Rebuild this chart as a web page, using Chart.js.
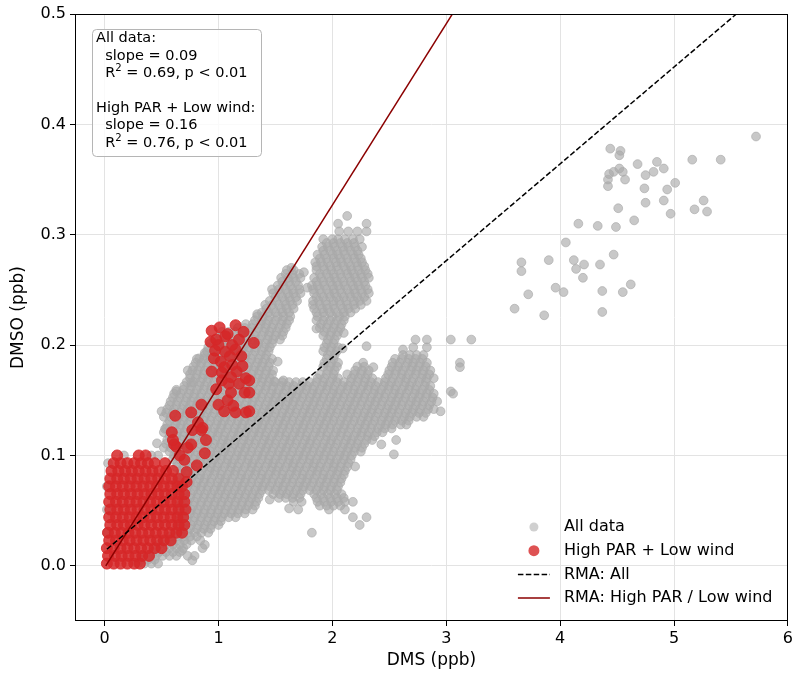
<!DOCTYPE html>
<html>
<head>
<meta charset="utf-8">
<script src="https://cdn.jsdelivr.net/npm/chart.js@4.4.1/dist/chart.umd.min.js"></script>
<style>
html, body { margin: 0; padding: 0; background: #fff; }
#wrap { width: 796px; height: 674px; }
</style>
</head>
<body>
<div id="wrap"><canvas id="chart" width="796" height="674"></canvas></div>
<script>
// DMS vs DMSO. Rows are [y, x, x, ...] (ppb)
const allLow = [
  [0.002, 0.29, 0.35, 0.41, 0.47],
  [0.0055, 0.32, 0.38, 0.44],
  [0.009, 0.33, 0.39, 0.45, 0.51, 0.57, 0.63, 0.73, 0.79],
  [0.0125, 0.42, 0.48, 0.54, 0.60, 0.66],
  [0.016, 0.45, 0.51, 0.57, 0.63, 0.69, 0.86],
  [0.0195, 0.48, 0.54, 0.60, 0.66, 0.72],
  [0.023, 0.52, 0.58, 0.64, 0.70, 0.76, 0.84],
  [0.0265, 0.57, 0.63, 0.69, 0.75, 0.81],
  [0.030, 0.02, 0.61, 0.67, 0.73, 0.79, 0.85, 0.91, 1.82],
  [0.0335, 0.63, 0.69, 0.75, 0.81, 0.87, 0.93],
  [0.037, 0.64, 0.70, 0.76, 0.82, 0.88, 0.94, 1.00, 2.24],
  [0.0405, 0.66, 0.72, 0.78, 0.84, 0.90, 0.96, 1.02],
  [0.044, 0.67, 0.73, 0.79, 0.85, 0.91, 0.97, 1.03, 1.09, 1.15, 2.18, 2.30],
  [0.0475, 0.69, 0.75, 0.81, 0.87, 0.93, 0.99, 1.05, 1.11, 1.17, 1.23],
  [0.051, 0.02, 0.64, 0.70, 0.76, 0.82, 0.88, 0.94, 1.00, 1.06, 1.12, 1.18, 1.24, 1.30, 1.70, 1.97, 2.11],
  [0.0545, 0.66, 0.72, 0.78, 0.84, 0.90, 0.96, 1.02, 1.08, 1.14, 1.20, 1.26, 1.32, 1.89, 1.95, 2.01, 2.07],
  [0.058, 0.67, 0.73, 0.79, 0.85, 0.91, 0.97, 1.03, 1.09, 1.15, 1.21, 1.27, 1.33, 1.66, 1.73, 1.87, 1.93, 1.99, 2.05, 2.11, 2.18],
  [0.0615, 0.69, 0.75, 0.81, 0.87, 0.93, 0.99, 1.05, 1.11, 1.17, 1.23, 1.29, 1.35, 1.53, 1.59, 1.65, 1.71, 1.86, 1.92, 1.98, 2.04, 2.10],
  [0.065, 0.64, 0.70, 0.76, 0.82, 0.88, 0.94, 1.00, 1.06, 1.12, 1.18, 1.24, 1.30, 1.36, 1.48, 1.54, 1.60, 1.66, 1.72, 1.84, 1.90, 1.96, 2.02, 2.08]
];

const allMain = [
  [0.0685, 0.66, 0.72, 0.78, 0.84, 0.90, 0.96, 1.02, 1.08, 1.14, 1.20, 1.26, 1.32, 1.38, 1.44, 1.50, 1.56, 1.62, 1.68, 1.74, 1.80, 1.86, 1.92, 1.98, 2.04],
  [0.072, 0.02, 0.67, 0.73, 0.80, 0.85, 0.91, 0.98, 1.03, 1.09, 1.16, 1.21, 1.27, 1.34, 1.39, 1.45, 1.52, 1.57, 1.63, 1.70, 1.75, 1.81, 1.88, 1.93, 1.99, 2.05],
  [0.0755, 0.63, 0.69, 0.75, 0.81, 0.87, 0.93, 0.99, 1.05, 1.11, 1.17, 1.23, 1.29, 1.35, 1.41, 1.47, 1.53, 1.59, 1.65, 1.71, 1.77, 1.83, 1.89, 1.95, 2.01, 2.07],
  [0.079, 0.64, 0.70, 0.76, 0.83, 0.88, 0.94, 1.01, 1.06, 1.12, 1.19, 1.24, 1.30, 1.37, 1.42, 1.48, 1.55, 1.60, 1.66, 1.73, 1.78, 1.84, 1.91, 1.96, 2.02, 2.08],
  [0.0825, 0.66, 0.72, 0.78, 0.84, 0.90, 0.96, 1.02, 1.08, 1.14, 1.20, 1.26, 1.32, 1.38, 1.44, 1.50, 1.56, 1.62, 1.68, 1.74, 1.80, 1.86, 1.92, 1.98, 2.04, 2.10],
  [0.086, 0.67, 0.74, 0.79, 0.85, 0.92, 0.97, 1.03, 1.10, 1.15, 1.21, 1.28, 1.33, 1.39, 1.46, 1.51, 1.57, 1.64, 1.69, 1.75, 1.82, 1.87, 1.93, 2.00, 2.05, 2.11],
  [0.0895, 0.63, 0.69, 0.75, 0.81, 0.87, 0.93, 0.99, 1.05, 1.11, 1.17, 1.23, 1.29, 1.35, 1.41, 1.47, 1.53, 1.59, 1.65, 1.71, 1.77, 1.83, 1.89, 1.95, 2.01, 2.07, 2.13],
  [0.093, 0.03, 0.64, 0.71, 0.76, 0.82, 0.89, 0.94, 1.00, 1.07, 1.12, 1.18, 1.25, 1.30, 1.36, 1.43, 1.48, 1.54, 1.61, 1.66, 1.72, 1.79, 1.84, 1.90, 1.97, 2.02, 2.08, 2.14],
  [0.0965, 0.60, 0.66, 0.72, 0.78, 0.84, 0.90, 0.96, 1.02, 1.08, 1.14, 1.20, 1.26, 1.32, 1.38, 1.44, 1.50, 1.56, 1.62, 1.68, 1.74, 1.80, 1.86, 1.92, 1.98, 2.04, 2.10, 2.16],
  [0.100, 0.17, 0.41, 0.47, 0.61, 0.67, 0.73, 0.80, 0.85, 0.91, 0.98, 1.03, 1.09, 1.16, 1.21, 1.27, 1.34, 1.39, 1.45, 1.52, 1.57, 1.63, 1.70, 1.75, 1.81, 1.88, 1.93, 1.99, 2.06, 2.11, 2.17],
  [0.1035, 0.57, 0.63, 0.69, 0.75, 0.81, 0.87, 0.93, 0.99, 1.05, 1.11, 1.17, 1.23, 1.29, 1.35, 1.41, 1.47, 1.53, 1.59, 1.65, 1.71, 1.77, 1.83, 1.89, 1.95, 2.01, 2.07, 2.13, 2.19, 2.25],
  [0.107, 0.52, 0.58, 0.65, 0.70, 0.76, 0.83, 0.88, 0.94, 1.01, 1.06, 1.12, 1.19, 1.24, 1.30, 1.37, 1.42, 1.48, 1.55, 1.60, 1.66, 1.73, 1.78, 1.84, 1.91, 1.96, 2.02, 2.09, 2.14, 2.20, 2.26],
  [0.1105, 0.54, 0.60, 0.66, 0.72, 0.78, 0.84, 0.90, 0.96, 1.02, 1.08, 1.14, 1.20, 1.26, 1.32, 1.38, 1.44, 1.50, 1.56, 1.62, 1.68, 1.74, 1.80, 1.86, 1.92, 1.98, 2.04, 2.10, 2.16, 2.22, 2.28],
  [0.114, 0.55, 0.61, 0.68, 0.73, 0.79, 0.86, 0.91, 0.97, 1.04, 1.09, 1.15, 1.22, 1.27, 1.33, 1.40, 1.45, 1.51, 1.58, 1.63, 1.69, 1.76, 1.81, 1.87, 1.94, 1.99, 2.05, 2.12, 2.17, 2.23, 2.30, 2.35, 2.56],
  [0.1175, 0.57, 0.63, 0.69, 0.75, 0.81, 0.87, 0.93, 0.99, 1.05, 1.11, 1.17, 1.23, 1.29, 1.35, 1.41, 1.47, 1.53, 1.59, 1.65, 1.71, 1.77, 1.83, 1.89, 1.95, 2.01, 2.07, 2.13, 2.19, 2.25, 2.31, 2.37],
  [0.121, 0.52, 0.59, 0.64, 0.70, 0.77, 0.82, 0.88, 0.95, 1.00, 1.06, 1.13, 1.18, 1.24, 1.31, 1.36, 1.42, 1.49, 1.54, 1.60, 1.67, 1.72, 1.78, 1.85, 1.90, 1.96, 2.03, 2.08, 2.14, 2.21, 2.26, 2.32, 2.39, 2.44],
  [0.1245, 0.54, 0.60, 0.66, 0.72, 0.78, 0.84, 0.90, 0.96, 1.02, 1.08, 1.14, 1.20, 1.26, 1.32, 1.38, 1.44, 1.50, 1.56, 1.62, 1.68, 1.74, 1.80, 1.86, 1.92, 1.98, 2.04, 2.10, 2.16, 2.22, 2.28, 2.34, 2.40, 2.46, 2.52],
  [0.128, 0.55, 0.62, 0.67, 0.73, 0.80, 0.85, 0.91, 0.98, 1.03, 1.09, 1.16, 1.21, 1.27, 1.34, 1.39, 1.45, 1.52, 1.57, 1.63, 1.70, 1.75, 1.81, 1.88, 1.93, 1.99, 2.06, 2.11, 2.17, 2.24, 2.29, 2.35, 2.42, 2.47, 2.53, 2.60, 2.65],
  [0.1315, 0.57, 0.63, 0.69, 0.75, 0.81, 0.87, 0.93, 0.99, 1.05, 1.11, 1.17, 1.23, 1.29, 1.35, 1.41, 1.47, 1.53, 1.59, 1.65, 1.71, 1.77, 1.83, 1.89, 1.95, 2.01, 2.07, 2.13, 2.19, 2.25, 2.31, 2.37, 2.43, 2.49, 2.55, 2.61, 2.67],
  [0.135, 0.52, 0.58, 0.65, 0.70, 0.76, 0.83, 0.88, 0.94, 1.01, 1.06, 1.12, 1.19, 1.24, 1.30, 1.37, 1.42, 1.48, 1.55, 1.60, 1.66, 1.73, 1.78, 1.84, 1.91, 1.96, 2.02, 2.09, 2.14, 2.20, 2.27, 2.32, 2.38, 2.45, 2.50, 2.56, 2.63, 2.68, 2.74, 2.80],
  [0.1385, 0.54, 0.60, 0.66, 0.72, 0.78, 0.84, 0.90, 0.96, 1.02, 1.08, 1.14, 1.20, 1.26, 1.32, 1.38, 1.44, 1.50, 1.56, 1.62, 1.68, 1.74, 1.80, 1.86, 1.92, 1.98, 2.04, 2.10, 2.16, 2.22, 2.28, 2.34, 2.40, 2.46, 2.52, 2.58, 2.64, 2.70, 2.76, 2.82],
  [0.142, 0.55, 0.61, 0.68, 0.73, 0.79, 0.86, 0.91, 0.97, 1.04, 1.09, 1.15, 1.22, 1.27, 1.33, 1.40, 1.45, 1.51, 1.58, 1.63, 1.69, 1.76, 1.81, 1.87, 1.94, 1.99, 2.05, 2.12, 2.17, 2.23, 2.30, 2.35, 2.41, 2.48, 2.53, 2.59, 2.66, 2.71, 2.77, 2.84, 2.89],
  [0.1455, 0.57, 0.63, 0.69, 0.75, 0.81, 0.87, 0.93, 0.99, 1.05, 1.11, 1.17, 1.23, 1.29, 1.35, 1.41, 1.47, 1.53, 1.59, 1.65, 1.71, 1.77, 1.83, 1.89, 1.95, 2.01, 2.07, 2.13, 2.19, 2.25, 2.31, 2.37, 2.43, 2.49, 2.55, 2.61, 2.67, 2.73, 2.79, 2.85],
  [0.149, 0.58, 0.64, 0.71, 0.76, 0.82, 0.89, 0.94, 1.00, 1.07, 1.12, 1.18, 1.25, 1.30, 1.36, 1.43, 1.48, 1.54, 1.61, 1.66, 1.72, 1.79, 1.84, 1.90, 1.97, 2.02, 2.08, 2.15, 2.20, 2.26, 2.33, 2.38, 2.44, 2.51, 2.56, 2.62, 2.69, 2.74, 2.80, 2.87, 2.92],
  [0.1525, 0.60, 0.66, 0.72, 0.78, 0.84, 0.90, 0.96, 1.02, 1.08, 1.14, 1.20, 1.26, 1.32, 1.38, 1.44, 1.50, 1.56, 1.62, 1.68, 1.74, 1.80, 1.86, 1.92, 1.98, 2.04, 2.10, 2.16, 2.22, 2.28, 2.34, 2.40, 2.46, 2.52, 2.58, 2.64, 2.70, 2.76, 2.82, 2.88],
  [0.156, 0.61, 0.67, 0.74, 0.79, 0.85, 0.92, 0.97, 1.03, 1.10, 1.15, 1.21, 1.28, 1.33, 1.39, 1.46, 1.51, 1.57, 1.64, 1.69, 1.75, 1.82, 1.87, 1.93, 2.00, 2.05, 2.11, 2.18, 2.23, 2.29, 2.36, 2.41, 2.47, 2.54, 2.59, 2.65, 2.72, 2.77, 2.83, 2.89, 3.06],
  [0.1595, 0.63, 0.69, 0.75, 0.81, 0.87, 0.93, 0.99, 1.05, 1.11, 1.17, 1.23, 1.29, 1.35, 1.41, 1.47, 1.53, 1.59, 1.65, 1.71, 1.77, 1.83, 1.89, 1.95, 2.01, 2.07, 2.13, 2.19, 2.25, 2.31, 2.37, 2.43, 2.49, 2.55, 2.61, 2.67, 2.73, 2.79, 2.85],
  [0.163, 0.70, 0.76, 0.83, 0.88, 0.94, 1.01, 1.06, 1.12, 1.19, 1.24, 1.30, 1.37, 1.42, 1.48, 1.55, 1.60, 1.66, 1.73, 1.78, 1.84, 1.91, 1.96, 2.02, 2.09, 2.14, 2.20, 2.27, 2.32, 2.38, 2.45, 2.50, 2.56, 2.63, 2.68, 2.74, 2.81, 2.86],
  [0.1665, 0.72, 0.78, 0.84, 0.90, 0.96, 1.02, 1.08, 1.14, 1.20, 1.26, 1.32, 1.38, 1.44, 1.50, 1.56, 1.62, 1.68, 1.74, 1.80, 1.86, 1.92, 1.98, 2.04, 2.10, 2.16, 2.22, 2.28, 2.34, 2.40, 2.46, 2.52, 2.58, 2.64, 2.70, 2.76, 2.82]
];

const allUpper = [
  [0.170, 0.75, 0.80, 0.86, 0.91, 0.98, 1.03, 1.09, 1.16, 1.21, 1.27, 1.34, 1.39, 1.45, 1.87, 1.93, 2.00, 2.05, 2.17, 2.23, 2.29, 2.35, 2.47, 2.53, 2.60, 2.65, 2.71, 2.78, 2.83, 2.89],
  [0.1735, 0.75, 0.81, 0.87, 0.93, 0.99, 1.05, 1.11, 1.17, 1.23, 1.29, 1.35, 1.41, 1.47, 1.89, 1.95, 2.01, 2.13, 2.19, 2.25, 2.31, 2.49, 2.55, 2.61, 2.67, 2.73, 2.79, 2.85],
  [0.177, 0.77, 0.82, 0.88, 0.95, 1.00, 1.06, 1.13, 1.18, 1.24, 1.31, 1.36, 1.42, 1.48, 1.96, 2.02, 2.20, 2.26, 2.32, 2.50, 2.56, 2.62, 2.69, 2.74, 2.80, 2.86],
  [0.1805, 0.78, 0.84, 0.90, 0.96, 1.02, 1.08, 1.14, 1.20, 1.26, 1.32, 1.38, 1.44, 1.92, 1.98, 2.04, 2.22, 2.28, 2.52, 2.58, 2.64, 2.70, 2.76, 2.82],
  [0.184, 0.80, 0.85, 0.91, 0.98, 1.03, 1.09, 1.16, 1.21, 1.27, 1.34, 1.39, 1.45, 1.93, 1.99, 2.05, 2.27, 2.53, 2.59, 2.66, 2.71, 2.77, 2.83, 3.12],
  [0.1875, 0.81, 0.87, 0.93, 0.99, 1.05, 1.11, 1.17, 1.23, 1.29, 1.35, 1.41, 1.47, 1.95, 2.01, 2.55, 2.61, 2.67, 2.73, 2.79],
  [0.191, 0.88, 0.94, 1.01, 1.06, 1.12, 1.19, 1.24, 1.30, 1.37, 1.42, 1.96, 2.02, 2.62, 2.68, 2.74, 2.80],
  [0.1945, 0.90, 0.96, 1.02, 1.08, 1.14, 1.20, 1.26, 1.32, 1.38, 1.44, 1.92, 1.98, 2.04],
  [0.198, 0.91, 0.97, 1.04, 1.09, 1.15, 1.22, 1.27, 1.33, 1.40, 1.45, 1.93, 1.99, 2.05, 2.71, 2.83],
  [0.2015, 0.93, 0.99, 1.05, 1.11, 1.17, 1.23, 1.29, 1.35, 1.41, 1.47, 1.95, 2.01],
  [0.205, 0.96, 1.00, 1.07, 1.12, 1.18, 1.25, 1.30, 1.36, 1.43, 1.48, 1.54, 1.96, 2.02, 2.73, 2.83, 3.04, 3.22],
  [0.2085, 1.02, 1.08, 1.14, 1.20, 1.26, 1.32, 1.38, 1.44, 1.50, 1.56, 1.92, 1.98, 2.04],
  [0.212, 1.03, 1.09, 1.15, 1.22, 1.27, 1.33, 1.40, 1.45, 1.51, 1.57, 1.93, 1.99, 2.05],
  [0.2155, 1.17, 1.23, 1.29, 1.35, 1.41, 1.47, 1.53, 1.59, 1.89, 1.95, 2.01, 2.07],
  [0.219, 1.24, 1.30, 1.37, 1.42, 1.48, 1.55, 1.60, 1.90, 1.96, 2.02, 2.08],
  [0.2225, 1.32, 1.38, 1.44, 1.50, 1.56, 1.62, 1.86, 1.92, 1.98, 2.04, 2.10],
  [0.226, 1.34, 1.39, 1.45, 1.52, 1.57, 1.63, 1.87, 1.93, 2.00, 2.06, 2.11],
  [0.2295, 1.38, 1.44, 1.50, 1.56, 1.62, 1.86, 1.92, 1.98, 2.04, 2.10, 2.16],
  [0.233, 1.42, 1.48, 1.55, 1.60, 1.66, 1.84, 1.91, 1.96, 2.02, 2.09, 2.14, 2.20],
  [0.2365, 1.41, 1.47, 1.53, 1.59, 1.65, 1.83, 1.89, 1.95, 2.01, 2.07, 2.13, 2.19, 2.25],
  [0.240, 1.45, 1.51, 1.58, 1.63, 1.69, 1.83, 1.88, 1.94, 2.01, 2.06, 2.12, 2.19, 2.24, 2.30],
  [0.2435, 1.50, 1.56, 1.62, 1.68, 1.86, 1.92, 1.98, 2.04, 2.10, 2.16, 2.22, 2.28],
  [0.247, 1.48, 1.54, 1.61, 1.66, 1.72, 1.84, 1.90, 1.97, 2.02, 2.08, 2.15, 2.20, 2.26, 2.32],
  [0.2505, 1.47, 1.53, 1.59, 1.65, 1.71, 1.83, 1.89, 1.95, 2.01, 2.07, 2.13, 2.19, 2.25, 2.31],
  [0.254, 1.52, 1.57, 1.63, 1.70, 1.82, 1.87, 1.93, 2.00, 2.05, 2.11, 2.18, 2.23, 2.29],
  [0.2575, 1.56, 1.62, 1.68, 1.86, 1.92, 1.98, 2.04, 2.10, 2.16, 2.22, 2.28],
  [0.261, 1.55, 1.61, 1.66, 1.72, 1.84, 1.90, 1.97, 2.02, 2.08, 2.15, 2.20, 2.26, 2.32],
  [0.2645, 1.59, 1.65, 1.71, 1.89, 1.95, 2.01, 2.07, 2.13, 2.19, 2.25, 2.31],
  [0.268, 1.60, 1.66, 1.86, 1.93, 1.99, 2.05, 2.12, 2.17, 2.23, 2.29],
  [0.2715, 1.86, 1.92, 1.98, 2.04, 2.10, 2.16, 2.22, 2.28],
  [0.275, 1.85, 1.90, 1.96, 2.03, 2.08, 2.14, 2.21, 2.26],
  [0.2785, 1.89, 1.95, 2.01, 2.07, 2.13, 2.19, 2.25],
  [0.282, 1.87, 1.93, 2.00, 2.05, 2.11, 2.18, 2.23],
  [0.2855, 1.92, 1.98, 2.04, 2.10, 2.16, 2.22],
  [0.289, 1.91, 1.96, 2.02, 2.09, 2.14, 2.20, 2.26],
  [0.2925, 1.95, 2.01, 2.07, 2.13, 2.19],
  [0.296, 1.92, 2.00, 2.05, 2.11, 2.18, 2.24],
  [0.303, 2.06, 2.14, 2.22, 2.30],
  [0.310, 2.05, 2.30],
  [0.317, 2.13]
];

// stragglers around the edges of the cloud, [x, y]
const allEdge = [
  [0.68, 0.014], [0.77, 0.005], [0.88, 0.019], [0.46, 0.111], [0.53, 0.124], [0.50, 0.140],
  [0.63, 0.158], [0.76, 0.166], [0.73, 0.177], [0.83, 0.188], [0.88, 0.193], [1.34, 0.228],
  [1.49, 0.167], [1.57, 0.168], [1.64, 0.270], [1.75, 0.266], [1.78, 0.252], [1.86, 0.215],
  [2.10, 0.211], [2.09, 0.197], [2.43, 0.110], [2.54, 0.101], [2.95, 0.140], [2.62, 0.196],
  [2.30, 0.199], [1.62, 0.052], [2.20, 0.090], [1.45, 0.060], [2.36, 0.180], [1.52, 0.185]
];

// scattered high-DMS samples, [x, y]
const allFar = [
  [3.04, 0.158], [3.12, 0.180], [3.60, 0.233], [3.66, 0.267], [3.66, 0.275], [3.72, 0.246],
  [3.86, 0.227], [3.90, 0.277], [3.96, 0.252], [4.03, 0.248], [4.05, 0.293], [4.12, 0.277],
  [4.14, 0.269], [4.16, 0.310], [4.20, 0.261], [4.21, 0.273], [4.33, 0.308], [4.35, 0.273],
  [4.37, 0.249], [4.37, 0.230], [4.42, 0.350], [4.42, 0.344], [4.43, 0.355], [4.44, 0.378],
  [4.47, 0.357], [4.47, 0.282], [4.49, 0.307], [4.51, 0.324], [4.52, 0.372], [4.52, 0.360],
  [4.53, 0.376], [4.55, 0.357], [4.55, 0.248], [4.57, 0.350], [4.62, 0.255], [4.65, 0.313],
  [4.68, 0.364], [4.74, 0.342], [4.75, 0.354], [4.75, 0.329], [4.82, 0.357], [4.85, 0.366],
  [4.91, 0.360], [4.91, 0.331], [4.94, 0.341], [4.97, 0.319], [5.01, 0.347], [5.16, 0.368],
  [5.18, 0.323], [5.26, 0.331], [5.29, 0.321], [5.41, 0.368], [5.72, 0.389]
];

// High PAR + Low wind samples
const highLow = [
  [0.002, 0.02, 0.08, 0.14, 0.20, 0.26, 0.31],
  [0.009, 0.03, 0.09, 0.15, 0.21, 0.27, 0.33, 0.39],
  [0.016, 0.02, 0.08, 0.14, 0.20, 0.26, 0.32, 0.38, 0.44, 0.50],
  [0.023, 0.04, 0.10, 0.16, 0.22, 0.28, 0.34, 0.40, 0.46, 0.52, 0.58],
  [0.030, 0.03, 0.09, 0.15, 0.21, 0.27, 0.33, 0.39, 0.45, 0.51, 0.57, 0.63, 0.68],
  [0.037, 0.05, 0.11, 0.17, 0.23, 0.29, 0.35, 0.41, 0.47, 0.53, 0.59, 0.65, 0.70],
  [0.044, 0.04, 0.10, 0.16, 0.22, 0.28, 0.34, 0.40, 0.46, 0.52, 0.58, 0.64, 0.69],
  [0.051, 0.05, 0.11, 0.17, 0.23, 0.29, 0.35, 0.41, 0.47, 0.53, 0.59, 0.65, 0.71],
  [0.058, 0.04, 0.10, 0.16, 0.22, 0.28, 0.34, 0.40, 0.46, 0.52, 0.58, 0.64, 0.70],
  [0.065, 0.05, 0.11, 0.17, 0.23, 0.29, 0.35, 0.41, 0.47, 0.53, 0.59, 0.65, 0.70],
  [0.072, 0.04, 0.10, 0.16, 0.22, 0.28, 0.34, 0.40, 0.46, 0.52, 0.58, 0.64, 0.68],
  [0.079, 0.05, 0.11, 0.17, 0.23, 0.29, 0.35, 0.41, 0.47, 0.53, 0.59, 0.65],
  [0.086, 0.06, 0.12, 0.18, 0.24, 0.30, 0.36, 0.42, 0.48, 0.54, 0.60],
  [0.093, 0.08, 0.14, 0.20, 0.26, 0.32, 0.38, 0.44, 0.53],
  [0.100, 0.11, 0.30, 0.36]
];

const highUpper = [
  [0.72, 0.076], [0.72, 0.085], [0.81, 0.091], [0.70, 0.096], [0.88, 0.102], [0.66, 0.100],
  [0.63, 0.108], [0.73, 0.107], [0.61, 0.110], [0.76, 0.110], [0.60, 0.114], [0.89, 0.114],
  [0.59, 0.121], [0.77, 0.123], [0.86, 0.125], [0.85, 0.123], [0.82, 0.130], [0.62, 0.136],
  [0.76, 0.139], [0.85, 0.146], [1.00, 0.146], [1.05, 0.140], [1.15, 0.139], [1.24, 0.139],
  [1.27, 0.140], [1.13, 0.145], [1.08, 0.150], [1.11, 0.157], [1.23, 0.157], [1.27, 0.157],
  [0.98, 0.160], [1.09, 0.165], [1.18, 0.165], [1.03, 0.168], [1.27, 0.168], [1.11, 0.171],
  [1.24, 0.170], [0.94, 0.176], [1.03, 0.175], [1.16, 0.176], [1.05, 0.180], [1.21, 0.181],
  [1.12, 0.182], [1.02, 0.185], [0.96, 0.188], [1.10, 0.190], [1.20, 0.190], [1.06, 0.194],
  [0.97, 0.195], [1.15, 0.196], [1.00, 0.200], [1.12, 0.200], [0.93, 0.203], [1.31, 0.202],
  [0.98, 0.205], [1.18, 0.205], [1.06, 0.208], [1.08, 0.210], [1.22, 0.212], [0.94, 0.213],
  [1.01, 0.216], [1.15, 0.218]
];

// reduced major axis fits, endpoints [x, y]
const rmaAll = [[0.02, 0.015], [5.73, 0.516]];
const rmaHigh = [[0.01, 0.000], [3.20, 0.524]];

const statsLines = [
  "All data:",
  "  slope = 0.09",
  "  R^2 = 0.69, p < 0.01",
  "",
  "High PAR + Low wind:",
  "  slope = 0.16",
  "  R^2 = 0.76, p < 0.01"
];

const legendLabels = ["All data", "High PAR + Low wind", "RMA: All", "RMA: High PAR / Low wind"];

const xTicks = [0, 1, 2, 3, 4, 5, 6];
const yTicks = [0, 0.1, 0.2, 0.3, 0.4, 0.5];

const FONT = "'DejaVu Sans', sans-serif";
const GRAY = "rgba(169, 169, 169, 0.64)";
const RED = "rgba(214, 39, 40, 0.85)";

function fromRows(rows) {
  const pts = [];
  rows.forEach(r => {
    r.slice(1).forEach(x => pts.push({x: x, y: r[0]}));
  });
  return pts;
}
const fromPairs = arr => arr.map(p => ({x: p[0], y: p[1]}));

const grayPoints = fromRows(allLow).concat(fromRows(allMain), fromRows(allUpper), fromPairs(allEdge), fromPairs(allFar));
const redPoints = fromRows(highLow).concat(fromPairs(highUpper));

const framePlugin = {
  id: "frame",
  afterDraw(chart) {
    const a = chart.chartArea;
    const ctx = chart.ctx;
    ctx.save();
    ctx.strokeStyle = "#000";
    ctx.lineWidth = 1;
    ctx.strokeRect(Math.round(a.left) + 0.5, Math.round(a.top) + 0.5,
      Math.round(a.right - a.left) - 1, Math.round(a.bottom - a.top) - 1);
    ctx.restore();
  }
};

const statsPlugin = {
  id: "stats",
  afterDraw(chart) {
    const ctx = chart.ctx;
    const a = chart.chartArea;
    const bx = a.left + 17.5, by = a.top + 15.5;
    ctx.save();
    ctx.beginPath();
    ctx.roundRect(bx, by, 169, 127, 4);
    ctx.fillStyle = "rgba(255,255,255,0.8)";
    ctx.fill();
    ctx.strokeStyle = "#b5b5b5";
    ctx.lineWidth = 1;
    ctx.stroke();

    ctx.fillStyle = "#000";
    ctx.textBaseline = "middle";
    const size = 14.5;
    statsLines.forEach((line, i) => {
      const y = by + 9 + i * 17.4;
      let x = bx + 3.5;
      const parts = line.split("^2");
      ctx.font = size + "px " + FONT;
      ctx.fillText(parts[0], x, y);
      if (parts.length > 1) {
        x += ctx.measureText(parts[0]).width;
        ctx.font = (size * 0.7) + "px " + FONT;
        ctx.fillText("2", x, y - 5);
        x += ctx.measureText("2").width;
        ctx.font = size + "px " + FONT;
        ctx.fillText(parts[1], x, y);
      }
    });
    ctx.restore();
  }
};

const legendPlugin = {
  id: "cornerLegend",
  afterDraw(chart) {
    const ctx = chart.ctx;
    const a = chart.chartArea;
    const mx = a.right - 254, tx = a.right - 224;
    ctx.save();
    ctx.font = "16px " + FONT;
    ctx.textBaseline = "middle";
    legendLabels.forEach((label, i) => {
      const y = a.bottom - 94 + i * 23.7;
      if (i < 2) {
        ctx.beginPath();
        ctx.arc(mx, y, i === 0 ? 4.5 : 5.5, 0, Math.PI * 2);
        ctx.fillStyle = i === 0 ? "rgba(169,169,169,0.55)" : "rgba(214,39,40,0.8)";
        ctx.fill();
      } else {
        ctx.beginPath();
        ctx.moveTo(mx - 16, y);
        ctx.lineTo(mx + 16, y);
        ctx.lineWidth = 1.5;
        ctx.strokeStyle = i === 2 ? "#000" : "#8b0000";
        ctx.setLineDash(i === 2 ? [5.5, 2.4] : []);
        ctx.stroke();
        ctx.setLineDash([]);
      }
      ctx.fillStyle = "#000";
      ctx.fillText(label, tx, y);
    });
    ctx.restore();
  }
};

new Chart(document.getElementById("chart"), {
  type: "scatter",
  data: {
    datasets: [
      {
        label: "RMA: All",
        data: fromPairs(rmaAll),
        showLine: true,
        borderColor: "#000",
        borderWidth: 1.5,
        borderDash: [5.5, 2.4],
        pointRadius: 0,
        order: 0
      },
      {
        label: "RMA: High PAR / Low wind",
        data: fromPairs(rmaHigh),
        showLine: true,
        borderColor: "#8b0000",
        borderWidth: 1.5,
        pointRadius: 0,
        order: 0
      },
      {
        label: "High PAR + Low wind",
        data: redPoints,
        backgroundColor: RED,
        borderColor: RED,
        borderWidth: 1,
        pointRadius: 5.5,
        order: 1
      },
      {
        label: "All data",
        data: grayPoints,
        backgroundColor: GRAY,
        borderColor: GRAY,
        borderWidth: 1,
        pointRadius: 4.4,
        order: 2
      }
    ]
  },
  options: {
    responsive: false,
    animation: false,
    events: [],
    layout: { padding: { top: 14, right: 6, left: 0, bottom: 0 } },
    plugins: { legend: { display: false }, tooltip: { enabled: false } },
    scales: {
      x: {
        type: "linear",
        min: -0.26,
        max: 6.0,
        afterBuildTicks: s => { s.ticks = xTicks.map(v => ({value: v})); },
        afterFit: s => { s.height = 53; },
        border: { display: false },
        grid: { color: "#e3e3e3", lineWidth: 1, tickColor: "#000", tickLength: 5, tickWidth: 1 },
        ticks: { color: "#000", font: { family: FONT, size: 16 }, padding: 3, maxRotation: 0, callback: v => String(v) },
        title: { display: true, text: "DMS (ppb)", color: "#000", font: { family: FONT, size: 17 }, padding: { top: 0, bottom: 3 } }
      },
      y: {
        type: "linear",
        min: -0.05,
        max: 0.5,
        afterBuildTicks: s => { s.ticks = yTicks.map(v => ({value: v})); },
        afterFit: s => { s.width = 75; },
        border: { display: false },
        grid: { color: "#e3e3e3", lineWidth: 1, tickColor: "#000", tickLength: 5, tickWidth: 1 },
        ticks: { color: "#000", font: { family: FONT, size: 16 }, padding: 4, callback: v => v.toFixed(1) },
        title: { display: true, text: "DMSO (ppb)", color: "#000", font: { family: FONT, size: 17 }, padding: { top: 8, bottom: 0 } }
      }
    }
  },
  plugins: [framePlugin, statsPlugin, legendPlugin]
});
</script>
</body>
</html>
